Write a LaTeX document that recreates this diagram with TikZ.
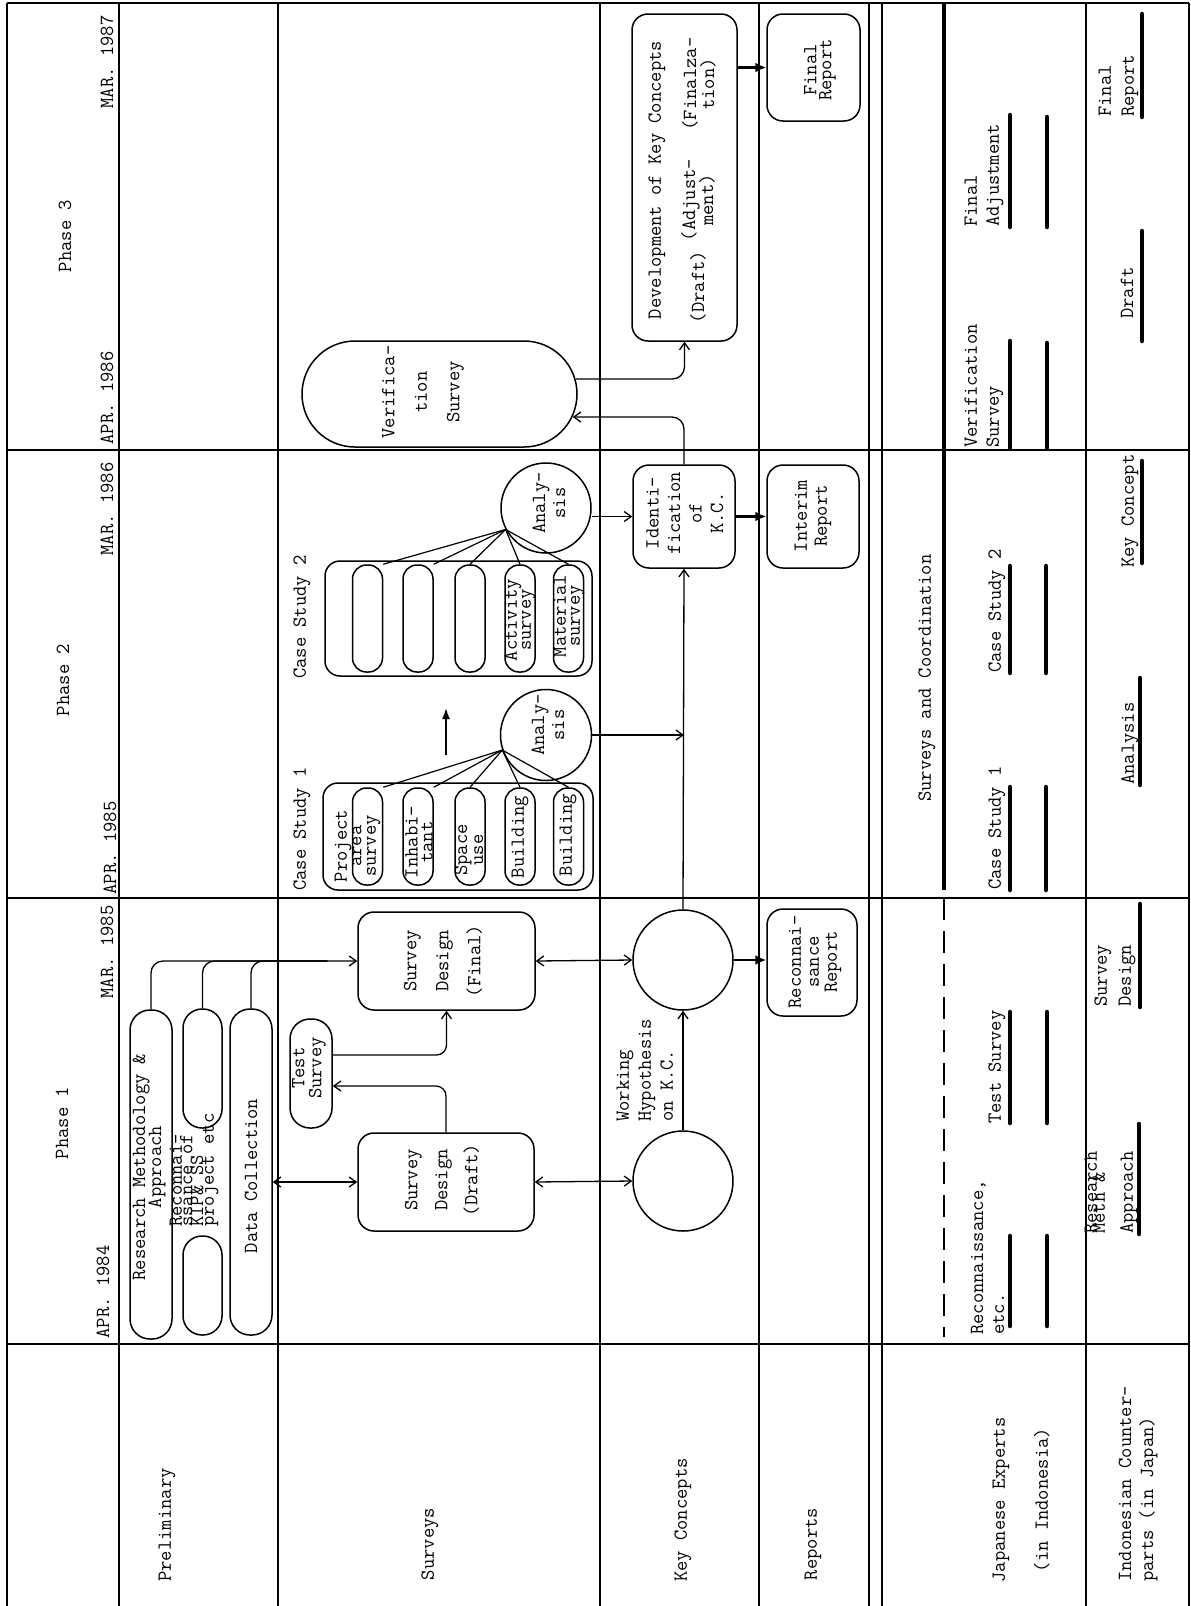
\documentclass[tikz,border=0pt]{standalone}
\usepackage{fontspec}
\usetikzlibrary{arrows.meta,calc,shapes.misc}
\newcommand\tfont{\ttfamily\addfontfeatures{FakeBold=0.8}\fontsize{20}{22}\selectfont}
\newcommand\tfs[1]{\ttfamily\addfontfeatures{FakeBold=0.8}\fontsize{20}{#1}\selectfont\lineskiplimit-99pt\relax}
\tikzset{
  gridline/.style={line width=1.6pt},
  shp/.style={draw, line width=1.5pt, inner sep=0pt},
  pill/.style={shp, rounded corners=#1},
  txt/.style={rotate=90, inner sep=0pt, align=center, font=\tfont},
  lsp/.style={font={\tfs{#1}}},
  ln/.style={line width=1.3pt},
  arr/.style={ln, -{Straight Barb[length=7pt,width=10pt]}},
  darr/.style={ln, {Straight Barb[length=7pt,width=10pt]}-{Straight Barb[length=7pt,width=10pt]}},
  barr/.style={line width=2.4pt, -{Latex[length=11pt,width=10pt]}},
  thickbar/.style={line width=4.5pt, line cap=round},
}
\begin{document}
\begin{tikzpicture}[x=1pt,y=-1pt]
\useasboundingbox (0,0) rectangle (1191,1606);

% ---------- grid ----------
\foreach \gx in {7,119,278,600,759,869,882,1086,1189} \draw[gridline] (\gx,3) -- (\gx,1606);
\foreach \gy in {3,450,898,1344} \draw[gridline] (7,\gy) -- (1189,\gy);
\draw[line width=4pt] (944,3) -- (944,890);
\draw[line width=2.6pt, dash pattern=on 22pt off 11pt] (944,898) -- (944,1337);

% ---------- header ----------
\node[txt] (h1) at (107,62) {MAR. 1987};
\node[txt] (h2) at (65,236) {Phase 3};
\node[txt] (h3) at (107,398) {APR. 1986};
\node[txt] (h4) at (107,509) {MAR. 1986};
\node[txt] (h5) at (63,680) {Phase 2};
\node[txt] (h6) at (110,848) {APR. 1985};
\node[txt] (h7) at (107,952) {MAR. 1985};
\node[txt] (h8) at (62,1123) {Phase 1};
\node[txt] (h9) at (103,1292) {APR. 1984};

% ---------- row labels ----------
\node[txt] (lpre) at (167,1525) {Preliminary};
\node[txt] (lsur) at (430,1544) {Surveys};
\node[txt] (lkc) at (683,1520) {Key Concepts};
\node[txt] (lrep) at (813,1544) {Reports};
\node[txt, lsp=43] (ljap) at (1021,1500) {Japanese Experts\\(in Indonesia)};
\node[txt, lsp=22, align=left, anchor=west] (lind) at (1138,1582) {Indonesian Counter-\\parts (in Japan)};

% ---------- preliminary ----------
\node[pill=20pt, minimum width=42pt, minimum height=329pt] (rm) at (151,1174.5) {};
\node[txt, lsp=16] (rmt) at (149,1167) {Research Methodology \&\\Approach};
\node[pill=19pt, minimum width=39pt, minimum height=119pt] (r2a) at (202.5,1068.5) {};
\node[pill=19pt, minimum width=39pt, minimum height=99pt] (r2b) at (202.5,1285.5) {};
\node[txt, lsp=10.7, align=left, anchor=west] (r2t) at (194,1227) {Reconnai-\\ssance of\\KIP\& SS\\project etc};
\node[pill=20pt, minimum width=42pt, minimum height=326pt] (dc) at (251,1172) {};
\node[txt] (dct) at (251,1176) {Data Collection};

% ---------- surveys ----------
\node[pill=20pt, minimum width=42pt, minimum height=109pt] (ts) at (311,1073.5) {};
\node[txt, lsp=17] (tst) at (309,1068) {Test\\Survey};
\node[shp, rounded corners=16pt, minimum width=176pt, minimum height=98pt] (sdd) at (446,1182) {};
\node[txt, lsp=30] (sddt) at (442,1180) {Survey\\Design\\(Draft)};
\node[shp, rounded corners=16pt, minimum width=177pt, minimum height=98pt] (sdf) at (446.5,961) {};
\node[txt, lsp=32] (sdft) at (443,961) {Survey\\Design\\(Final)};

\node[txt] (cs1l) at (302,829) {Case Study 1};
\node[shp, rounded corners=15pt, minimum width=270pt, minimum height=107pt] (cs1) at (458,836.5) {};
\node[pill=14pt, minimum width=30pt, minimum height=97pt] (s1a) at (367.5,836.5) {};
\node[pill=14pt, minimum width=30pt, minimum height=97pt] (s1b) at (418,836.5) {};
\node[pill=14pt, minimum width=30pt, minimum height=97pt] (s1c) at (470,836.5) {};
\node[pill=14pt, minimum width=30pt, minimum height=97pt] (s1d) at (520,836.5) {};
\node[pill=14pt, minimum width=30pt, minimum height=97pt] (s1e) at (568.5,836.5) {};
\node[txt, lsp=14.5] (s1at) at (357.5,846) {Project\\area\\survey};
\node[txt, lsp=15] (s1bt) at (419,842) {Inhabi-\\tant};
\node[txt, lsp=16] (s1ct) at (469,850) {Space\\use};
\node[txt] (s1dt) at (520,837) {Building};
\node[txt] (s1et) at (568,835) {Building};

\node[txt] (cs2l) at (302,617) {Case Study 2};
\node[shp, rounded corners=15pt, minimum width=267pt, minimum height=115pt] (cs2) at (458.5,618.5) {};
\node[pill=14pt, minimum width=30pt, minimum height=107pt] (s2a) at (367.5,618.5) {};
\node[pill=14pt, minimum width=30pt, minimum height=107pt] (s2b) at (418,618.5) {};
\node[pill=14pt, minimum width=30pt, minimum height=107pt] (s2c) at (470,618.5) {};
\node[pill=14pt, minimum width=30pt, minimum height=107pt] (s2d) at (520,618.5) {};
\node[pill=14pt, minimum width=30pt, minimum height=107pt] (s2e) at (568.5,618.5) {};
\node[txt, lsp=14] (s2dt) at (520,620) {Activity\\survey};
\node[txt, lsp=14] (s2et) at (569,616) {Material\\survey};

\node[shp, circle, minimum size=91pt] (an1) at (546,735) {};
\node[txt, lsp=20] (an1t) at (548,725) {Analy-\\sis};
\node[shp, circle, minimum size=90pt] (an2) at (546,508) {};
\node[txt, lsp=20] (an2t) at (549,503) {Analy-\\sis};

\node[shp, rounded rectangle, minimum width=275pt, minimum height=106pt] (vs) at (439.5,394) {};
\node[txt, lsp=32.5] (vst) at (423,392) {Verifica-\\tion\\Survey};

% ---------- key concepts ----------
\node[shp, circle, minimum size=100pt] (uc) at (683,960) {};
\node[shp, circle, minimum size=100pt] (wh) at (683,1181) {};
\node[txt, lsp=22, align=left, anchor=west] (wht) at (645,1122) {Working\\Hypothesis\\on K.C.};
\node[shp, rounded corners=16pt, minimum width=102pt, minimum height=103pt] (id) at (684,516.5) {};
\node[txt, lsp=21.5] (idt) at (685,513) {Identi-\\fication\\of\\K.C.};
\node[shp, rounded corners=16pt, minimum width=105pt, minimum height=327pt] (dev) at (684.5,177.5) {};
\node[txt] (devt) at (657,180) {Development of Key Concepts};
\node[txt] (devd) at (698,287) {(Draft)};
\node[txt, lsp=18] (deva) at (698,200) {(Adjust-\\ment)};
\node[txt, lsp=18] (devf) at (699,84) {(Finalza-\\tion)};

% ---------- reports ----------
\node[shp, rounded corners=16pt, minimum width=93pt, minimum height=107pt] (fr) at (813.5,67.5) {};
\node[txt, lsp=15] (frt) at (820,70) {Final\\Report};
\node[shp, rounded corners=16pt, minimum width=92pt, minimum height=103pt] (ir) at (813,516.5) {};
\node[txt, lsp=20] (irt) at (813,516) {Interim\\Report};
\node[shp, rounded corners=16pt, minimum width=90pt, minimum height=107pt] (rr) at (812,962.5) {};
\node[txt, lsp=18] (rrt) at (815,962) {Reconnai-\\sance\\Report};

% ---------- connectors ----------
\draw[arr, rounded corners=12pt] (rm.north) |- (sdf.west);
\draw[ln, rounded corners=12pt] (r2a.north) |- ($(sdf.west)+(-30,0)$);
\draw[ln, rounded corners=12pt] (dc.north) |- ($(sdf.west)+(-30,0)$);
\draw[darr] (dc.east |- sdd.west) -- (sdd.west);
\draw[darr] (sdd.east) -- (wh.west);
\coordinate (tsin) at ($(ts.east)+(0,12.5)$);
\draw[arr, rounded corners=10pt] (sdd.north) |- (tsin);
\coordinate (tsout) at ($(ts.east)+(0,-18.5)$);
\draw[arr, rounded corners=10pt] (tsout) -| (sdf.south);
\draw[darr] (sdf.east) -- (uc.west);
\draw[arr] (wh.north) -- (uc.south);
\draw[arr] (uc.north) -- (id.south);
\draw[arr] (an1.east) -- (an1.east -| id.south);
\draw[arr] (an2.east |- id.west) -- (id.west);
\draw[barr] (id.east) -- (ir.west);
\draw[barr] (uc.east) -- (uc.east -| rr.west);
\coordinate (vsin) at ($(vs.east)+(-5,23)$);
\draw[arr, rounded corners=12pt] (id.north) |- (vsin);
\coordinate (vsout) at ($(vs.east)+(-2,-15)$);
\draw[arr, rounded corners=12pt] (vsout) -| (dev.south);
\draw[barr] (dev.east |- fr.west) -- (fr.west);

\foreach \t in {s1a.north east,s1b.north east,s1c.north,s1d.north,s1e.north}
  \draw[line width=1.2pt] (an1.199) -- (\t);
\foreach \t in {s2a.north east,s2b.north east,s2c.north,s2d.north,s2e.north}
  \draw[line width=1.2pt] (an2.208) -- (\t);
\coordinate (csa) at (446,755);
\coordinate (csb) at (446,708);
\draw[line width=1.8pt, -{Latex[length=11pt,width=8pt]}] (csa) -- (csb);

% ---------- surveys and coordination ----------
\node[txt] (sac) at (927,678) {Surveys and Coordination};

% Japanese experts
\node[txt, lsp=21, align=left, anchor=west] (j1) at (987.5,1335) {Reconnaissance,\\etc.};
\draw[thickbar] (1010,1326) -- (1010,1236);
\draw[thickbar] (1047,1326) -- (1047,1236);
\node[txt, anchor=west] (j2) at (997,1124) {Test Survey};
\draw[thickbar] (1010,1123) -- (1010,1012);
\draw[thickbar] (1047,1123) -- (1047,1012);
\node[txt, anchor=west] (j3) at (997,890) {Case Study 1};
\draw[thickbar] (1010,890) -- (1010,787);
\draw[thickbar] (1046,890) -- (1046,787);
\node[txt, anchor=west] (j4) at (997,673) {Case Study 2};
\draw[thickbar] (1010,673) -- (1010,566);
\draw[thickbar] (1046,673) -- (1046,566);
\node[txt, lsp=22, align=left, anchor=west] (j5) at (984,448) {Verification\\Survey};
\draw[thickbar] (1010,448) -- (1010,341);
\draw[thickbar] (1047,448) -- (1047,343);
\node[txt, lsp=22, align=left, anchor=west] (j6) at (984,227) {Final\\Adjustment};
\draw[thickbar] (1010,227) -- (1010,115);
\draw[thickbar] (1047,227) -- (1047,117);

% Indonesian counterparts
\node[txt, lsp=8, align=left, anchor=west] (i1) at (1111,1234) {Research\\Meth \&\\[20pt]Approach};
\draw[thickbar] (1139,1234) -- (1139,1124);
\node[txt, lsp=24, align=left, anchor=west] (i2) at (1115,1007) {Survey\\Design};
\draw[thickbar] (1140,1007) -- (1140,904);
\node[txt, anchor=west] (i3) at (1130,785) {Analysis};
\draw[thickbar] (1140,785) -- (1140,678);
\node[txt, anchor=west] (i4) at (1130,568) {Key Concept};
\draw[thickbar] (1142,563) -- (1142,461);
\node[txt] (i5) at (1127,293) {Draft};
\draw[thickbar] (1142,341) -- (1142,231);
\node[txt, lsp=23, align=left, anchor=west] (i6) at (1118.5,117) {Final\\Report};
\draw[thickbar] (1142,117) -- (1142,14);
\end{tikzpicture}
\end{document}
